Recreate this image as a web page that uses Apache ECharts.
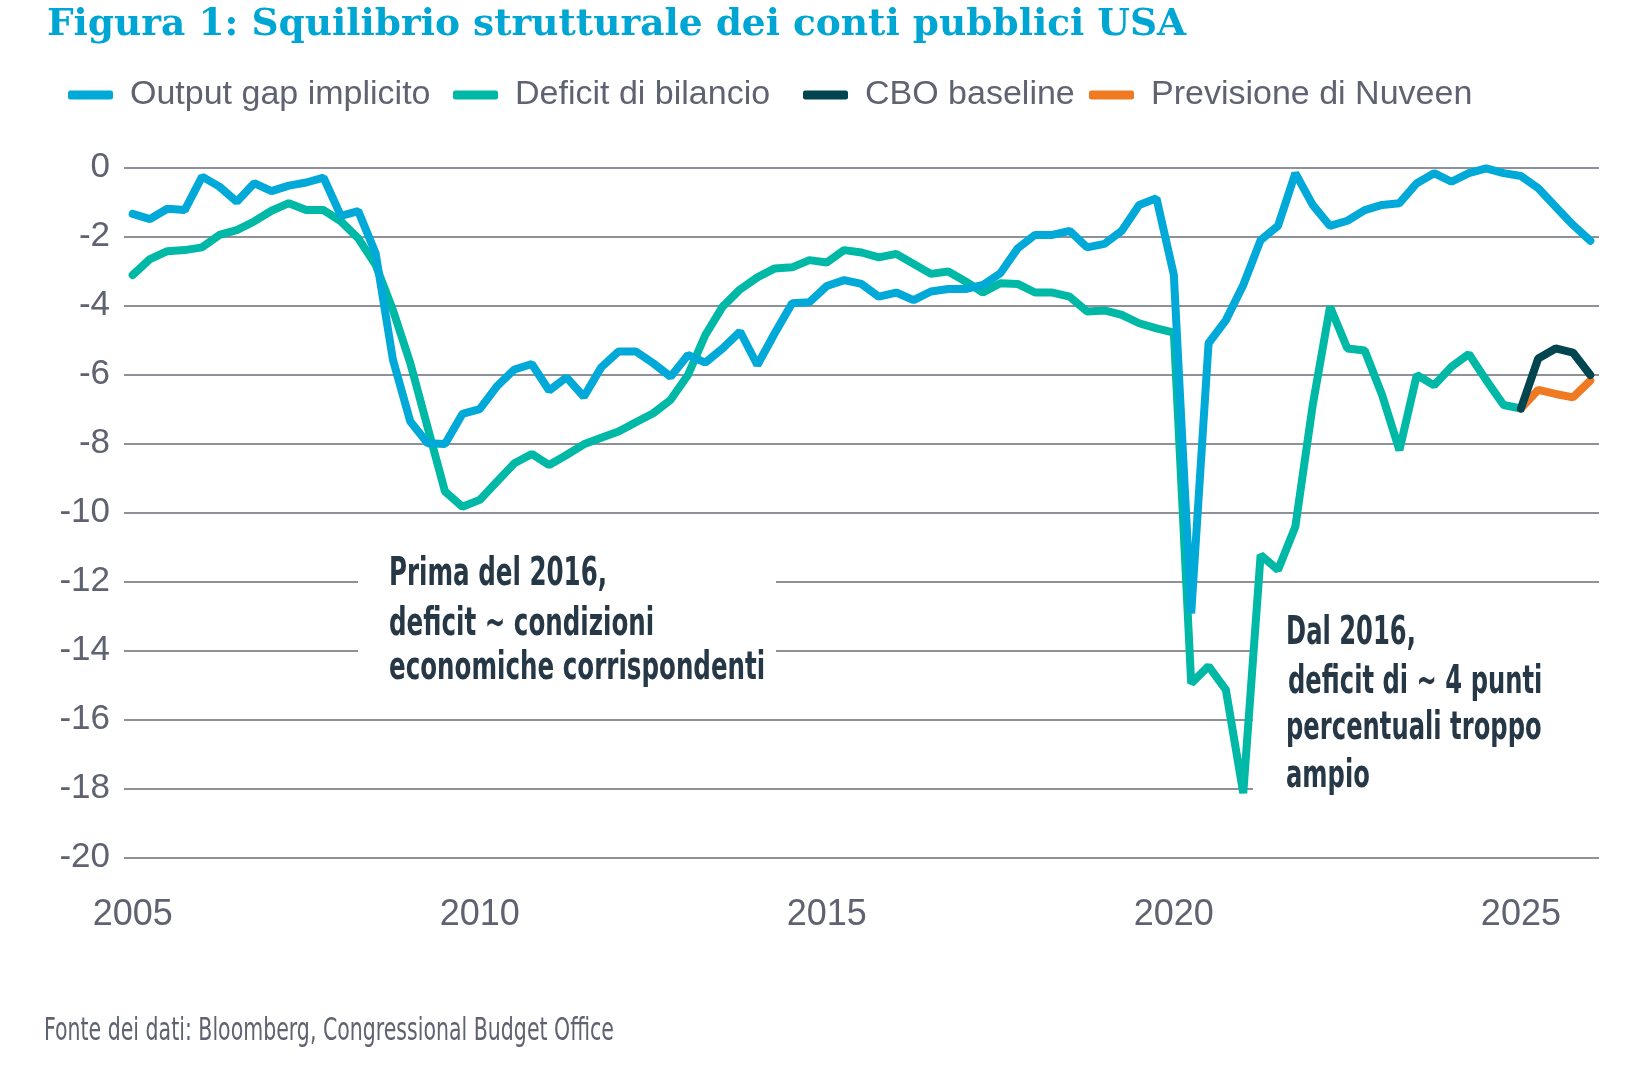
<!DOCTYPE html>
<html><head><meta charset="utf-8">
<script src="https://cdn.jsdelivr.net/npm/echarts@6/dist/echarts.min.js"></script>
<style>html,body{margin:0;padding:0;background:#fff}#c{width:1641px;height:1083px}</style>
</head><body><div id="c"></div>
<script>
// Quarterly categories 2005Q1 .. 2026Q1
const quarters = [];
for (let y = 2005; y <= 2026; y++) {
  for (let q = 1; q <= 4; q++) {
    if (y === 2026 && q > 1) break;
    quarters.push(y + 'Q' + q);
  }
}
const xTickYears = ['2005', '2010', '2015', '2020', '2025'];

const seriesNames = ['Output gap implicito', 'Deficit di bilancio', 'CBO baseline', 'Previsione di Nuveen'];

const outputGap = [
  -1.35, -1.5, -1.2, -1.24, -0.27, -0.56, -1.0, -0.46, -0.69, -0.53, -0.44, -0.3, -1.41, -1.27, -2.49, -5.58,
  -7.37, -8.0, -8.02, -7.15, -7.01, -6.34, -5.86, -5.7, -6.47, -6.09, -6.65, -5.8, -5.34,
  -5.34, -5.68, -6.07, -5.44, -5.66, -5.25, -4.76, -5.73, -4.81, -3.94, -3.91, -3.44, -3.27, -3.38, -3.75,
  -3.63, -3.85, -3.6, -3.53, -3.53, -3.41, -3.07, -2.35, -1.96, -1.96, -1.84, -2.32, -2.22, -1.84,
  -1.09, -0.9, -3.12, -12.93, -5.1, -4.43, -3.41, -2.11, -1.7, -0.17, -1.09, -1.7, -1.55, -1.24,
  -1.09, -1.04, -0.46, -0.17, -0.42, -0.17, -0.03, -0.17, -0.25, -0.61, -1.14, -1.67, -2.13
];

const deficit = [
  -3.12, -2.66, -2.43, -2.4, -2.32, -1.96, -1.82, -1.57, -1.26, -1.04, -1.24, -1.24, -1.57, -2.06, -2.83, -4.14,
  -5.68, -7.54, -9.4, -9.84, -9.64, -9.11, -8.58, -8.31, -8.63, -8.34, -8.03, -7.84, -7.66,
  -7.39, -7.13, -6.74, -6.02, -4.86, -4.04, -3.54, -3.19, -2.93, -2.9, -2.69, -2.76, -2.4, -2.47, -2.61,
  -2.51, -2.8, -3.09, -3.02, -3.31, -3.63, -3.36, -3.38, -3.63, -3.63, -3.75, -4.18, -4.15, -4.28,
  -4.52, -4.67, -4.79, -14.96, -14.46, -15.15, -18.14, -11.24, -11.67, -10.42, -6.9, -4.04, -5.25, -5.31,
  -6.6, -8.2, -6.02, -6.32, -5.78, -5.41, -6.17, -6.89, -6.99
];

// 2025Q1 .. 2026Q1
const forecastStart = '2025Q1';
const cboBaseline = [-6.99, -5.54, -5.25, -5.37, -6.02];
const nuveenForecast = [-6.99, -6.45, -6.57, -6.67, -6.18];

const colors = ['#00a9d8', '#00b8a6', '#00454f', '#f07a22'];

function padForecast(vals) {
  const start = quarters.indexOf(forecastStart);
  const out = quarters.map(() => null);
  vals.forEach((v, k) => { out[start + k] = v; });
  return out;
}

const chart = echarts.init(document.getElementById('c'), null, { renderer: 'canvas' });

const axisFont = "'Liberation Sans', Arial, sans-serif";
const narrowFont = "'DejaVu Sans Condensed', 'Liberation Sans', sans-serif";
const textGray = '#5f6270';
const annColor = '#263746';

const legendLefts = [63, 448, 798, 1084];

function annText(txt, x, y, size, sx, sy, weight, color) {
  return {
    type: 'text', x: x, y: y, scaleX: sx, scaleY: sy, z: 50,
    style: {
      text: txt, x: 0, y: 0,
      font: (weight || 'bold') + ' ' + size + 'px ' + narrowFont,
      fill: color || annColor,
      textAlign: 'left', textVerticalAlign: 'middle'
    }
  };
}

const option = {
  backgroundColor: '#ffffff',
  animation: false,
  title: {
    text: 'Figura 1: Squilibrio strutturale dei conti pubblici USA',
    left: 42, top: 1,
    textStyle: { fontFamily: "'DejaVu Serif', serif", fontWeight: 'bold', fontSize: 37.5, color: '#00a6d3' }
  },
  legend: seriesNames.map((n, k) => ({
    data: [n],
    left: legendLefts[k], top: 73,
    icon: 'roundRect', itemWidth: 45, itemHeight: 9,
    textStyle: { fontFamily: axisFont, fontSize: 34, color: textGray, padding: [0, 0, 0, 12] }
  })),
  grid: { left: 124, right: 42, top: 167.3, bottom: 225.7, containLabel: false },
  xAxis: {
    type: 'category', data: quarters, boundaryGap: true,
    axisLine: { show: false }, axisTick: { show: false },
    axisLabel: {
      interval: (idx, val) => val.endsWith('Q1') && xTickYears.includes(val.slice(0, 4)),
      formatter: (val) => val.slice(0, 4),
      fontFamily: axisFont, fontSize: 36, color: textGray, margin: 40
    },
    splitLine: { show: false }
  },
  yAxis: {
    type: 'value', min: -20, max: 0, interval: 2,
    axisLine: { show: false }, axisTick: { show: false },
    axisLabel: { fontFamily: axisFont, fontSize: 35, color: textGray, margin: 14 },
    splitLine: { lineStyle: { color: '#6a6c76', width: 1.5 } }
  },
  series: [
    { name: seriesNames[1], type: 'line', data: deficit, z: 2, showSymbol: false, symbol: 'none',
      lineStyle: { width: 8, color: colors[1], cap: 'round' }, itemStyle: { color: colors[1] } },
    { name: seriesNames[0], type: 'line', data: outputGap, z: 3, showSymbol: false, symbol: 'none',
      lineStyle: { width: 8, color: colors[0], cap: 'round' }, itemStyle: { color: colors[0] } },
    { name: seriesNames[3], type: 'line', data: padForecast(nuveenForecast), z: 4, showSymbol: false, symbol: 'none',
      lineStyle: { width: 8, color: colors[3], cap: 'round' }, itemStyle: { color: colors[3] } },
    { name: seriesNames[2], type: 'line', data: padForecast(cboBaseline), z: 5, showSymbol: false, symbol: 'none',
      lineStyle: { width: 8, color: colors[2], cap: 'round' }, itemStyle: { color: colors[2] } }
  ],
  graphic: [
    { type: 'rect', z: 1, shape: { x: 358, y: 556, width: 418, height: 140 }, style: { fill: '#ffffff' } },
    { type: 'rect', z: 1, shape: { x: 1253, y: 600, width: 360, height: 210 }, style: { fill: '#ffffff' } },
    annText('Prima del 2016,', 389, 575, 35, 0.78, 1.13),
    annText('deficit \u223C condizioni', 389, 624.7, 35, 0.78, 1.13),
    annText('economiche corrispondenti', 389, 668.7, 35, 0.78, 1.13),
    annText('Dal 2016,', 1286, 634, 35, 0.77, 1.13),
    annText('deficit di \u223C 4 punti', 1288, 682.7, 35, 0.77, 1.13),
    annText('percentuali troppo', 1286, 729, 35, 0.77, 1.13),
    annText('ampio', 1286, 776.4, 35, 0.77, 1.13),
    annText('Fonte dei dati: Bloomberg, Congressional Budget Office', 44, 1031, 28.5, 0.8, 1.15, 'normal', textGray)
  ]
};
chart.setOption(option);
</script>
</body></html>
